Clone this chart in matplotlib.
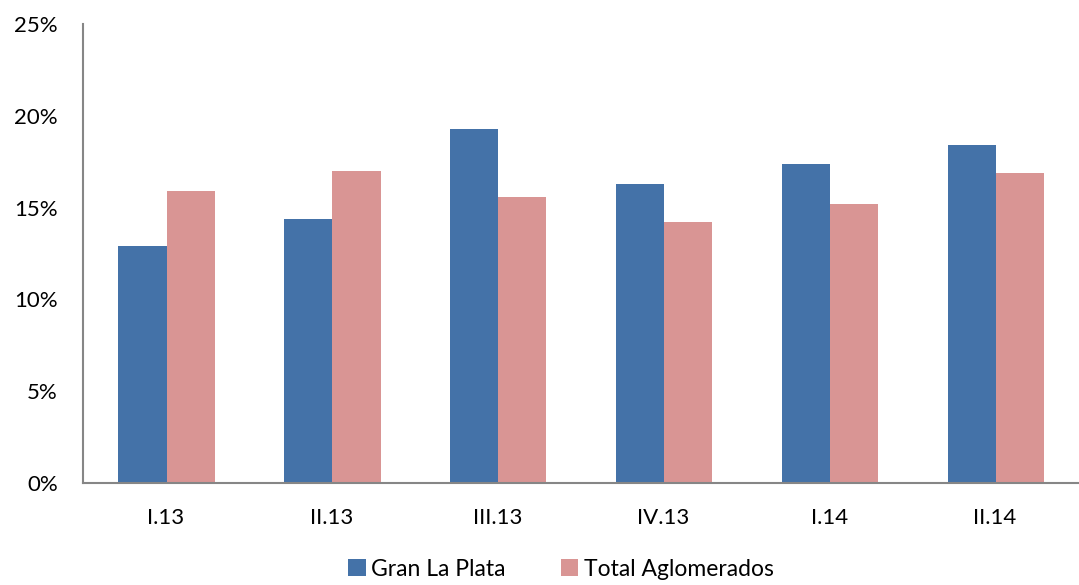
import matplotlib
matplotlib.use("Agg")
import matplotlib.pyplot as plt
import numpy as np
from matplotlib.ticker import FuncFormatter

categories = ["I.13", "II.13", "III.13", "IV.13", "I.14", "II.14"]
gran_la_plata = [12.9, 14.4, 19.3, 16.3, 17.4, 18.4]
total_aglomerados = [15.9, 17.0, 15.6, 14.2, 15.2, 16.9]
y_ticks = [0, 5, 10, 15, 20, 25]

blue = "#4472A8"
pink = "#D99594"
axis_gray = "#868686"

plt.rcParams["font.family"] = ["Lato", "DejaVu Sans"]

fig = plt.figure(figsize=(10.79, 5.85), dpi=100)
ax = fig.add_axes([83 / 1079, (585 - 483) / 585, (1078 - 83) / 1079, (483 - 24) / 585])

x = np.arange(len(categories))
w = 0.29
ax.bar(x - w / 2 + 0.004, gran_la_plata, width=w, color=blue, label="Gran La Plata")
ax.bar(x + w / 2 + 0.004, total_aglomerados, width=w, color=pink, label="Total Aglomerados")

ax.set_xlim(-0.5, len(categories) - 0.5)
ax.set_ylim(0, 25)
ax.set_yticks(y_ticks)
ax.yaxis.set_major_formatter(FuncFormatter(lambda v, _: f"{v:.0f}%"))
ax.set_xticks(x)
ax.set_xticklabels(categories)

for side in ("top", "right"):
    ax.spines[side].set_visible(False)
for side in ("left", "bottom"):
    ax.spines[side].set_color(axis_gray)
    ax.spines[side].set_linewidth(1.5)

ax.tick_params(axis="both", length=0, labelsize=16, colors="black")
ax.tick_params(axis="y", pad=18)
ax.tick_params(axis="x", pad=18)

fig.legend(loc="lower center", bbox_to_anchor=(561 / 1079, -0.026), ncol=2,
           frameon=False, fontsize=16.5, handlelength=0.75, handleheight=0.75,
           handletextpad=0.25, columnspacing=2.4)

fig.savefig("out.png", dpi=100)
